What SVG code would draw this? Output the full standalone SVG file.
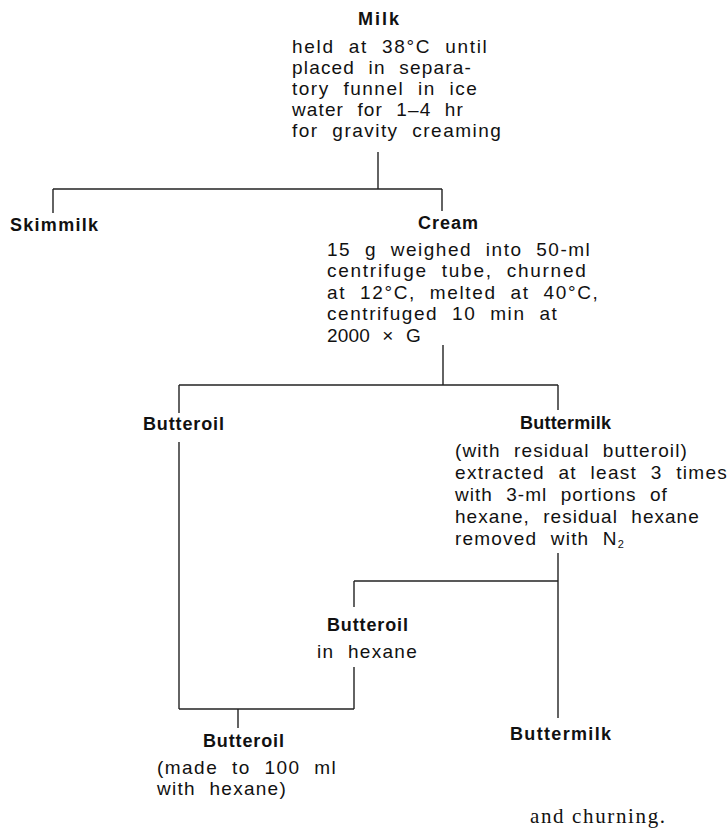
<svg xmlns="http://www.w3.org/2000/svg" width="727" height="830" viewBox="0 0 727 830">
  <style>
    .t { font-family: "Liberation Sans", Arial, sans-serif; font-size: 19px; fill: #111; letter-spacing: 1.2px; word-spacing: 7px; }
    .b { font-family: "Liberation Sans", Arial, sans-serif; font-size: 18px; font-weight: bold; fill: #111; letter-spacing: 1px; }
    .s { font-family: "Liberation Serif", "Times New Roman", serif; font-size: 21px; fill: #111; }
    .c line { stroke: #222; stroke-width: 1.4; fill: none; }
  </style>
  <rect width="727" height="830" fill="#ffffff"/>

  <g id="milk">
    <text class="b" x="358" y="25" textLength="42" lengthAdjust="spacing">Milk</text>
    <text class="t" x="292" y="53" textLength="196" lengthAdjust="spacing">held at 38°C until</text>
    <text class="t" x="292" y="74" textLength="180" lengthAdjust="spacing">placed in separa-</text>
    <text class="t" x="292" y="95" textLength="186" lengthAdjust="spacing">tory funnel in ice</text>
    <text class="t" x="292" y="116" textLength="172" lengthAdjust="spacing">water for 1–4 hr</text>
    <text class="t" x="292" y="137" textLength="210" lengthAdjust="spacing">for gravity creaming</text>
  </g>

  <g id="skimmilk">
    <text class="b" x="10" y="231" textLength="89" lengthAdjust="spacing">Skimmilk</text>
  </g>

  <g id="cream">
    <text class="b" x="418" y="229" textLength="61" lengthAdjust="spacing">Cream</text>
    <text class="t" x="327" y="256" textLength="264" lengthAdjust="spacing">15 g weighed into 50-ml</text>
    <text class="t" x="327" y="277" textLength="260" lengthAdjust="spacing">centrifuge tube, churned</text>
    <text class="t" x="327" y="299" textLength="272" lengthAdjust="spacing">at 12°C, melted at 40°C,</text>
    <text class="t" x="327" y="320" textLength="231" lengthAdjust="spacing">centrifuged 10 min at</text>
    <text class="t" x="327" y="342" textLength="95" lengthAdjust="spacing">2000 × G</text>
  </g>

  <g id="butteroil1">
    <text class="b" x="143" y="430" textLength="82" lengthAdjust="spacing">Butteroil</text>
  </g>

  <g id="buttermilk1">
    <text class="b" x="520" y="429" textLength="92" lengthAdjust="spacing">Buttermilk</text>
    <text class="t" x="455" y="457" textLength="233" lengthAdjust="spacing">(with residual butteroil)</text>
    <text class="t" x="455" y="479" textLength="273" lengthAdjust="spacing">extracted at least 3 times</text>
    <text class="t" x="455" y="501" textLength="213" lengthAdjust="spacing">with 3-ml portions of</text>
    <text class="t" x="455" y="523" textLength="245" lengthAdjust="spacing">hexane, residual hexane</text>
    <text class="t" x="455" y="545">removed with N<tspan font-size="11" dy="3" letter-spacing="0">2</tspan></text>
  </g>

  <g id="butteroil2">
    <text class="b" x="327" y="631" textLength="82" lengthAdjust="spacing">Butteroil</text>
    <text class="t" x="317" y="658" textLength="101" lengthAdjust="spacing">in hexane</text>
  </g>

  <g id="butteroil3">
    <text class="b" x="203" y="747" textLength="82" lengthAdjust="spacing">Butteroil</text>
    <text class="t" x="157" y="774" textLength="180" lengthAdjust="spacing">(made to 100 ml</text>
    <text class="t" x="157" y="795" textLength="130" lengthAdjust="spacing">with hexane)</text>
  </g>

  <g id="buttermilk2">
    <text class="b" x="510" y="740" textLength="102" lengthAdjust="spacing">Buttermilk</text>
  </g>

  <g id="caption">
    <text class="s" x="530" y="823" textLength="135" lengthAdjust="spacing">and churning.</text>
  </g>

  <g id="connectors" class="c">
    <line x1="378" y1="152" x2="378" y2="189"/>
    <line x1="53" y1="189" x2="442" y2="189"/>
    <line x1="53" y1="189" x2="53" y2="213"/>
    <line x1="442" y1="189" x2="442" y2="211"/>
    <line x1="443" y1="345" x2="443" y2="385"/>
    <line x1="179" y1="385" x2="558" y2="385"/>
    <line x1="179" y1="385" x2="179" y2="413"/>
    <line x1="558" y1="385" x2="558" y2="410"/>
    <line x1="179" y1="442" x2="179" y2="709"/>
    <line x1="179" y1="709" x2="354" y2="709"/>
    <line x1="354" y1="667" x2="354" y2="709"/>
    <line x1="238" y1="709" x2="238" y2="728"/>
    <line x1="558" y1="553" x2="558" y2="718"/>
    <line x1="354" y1="581" x2="558" y2="581"/>
    <line x1="354" y1="581" x2="354" y2="607"/>
  </g>
</svg>
